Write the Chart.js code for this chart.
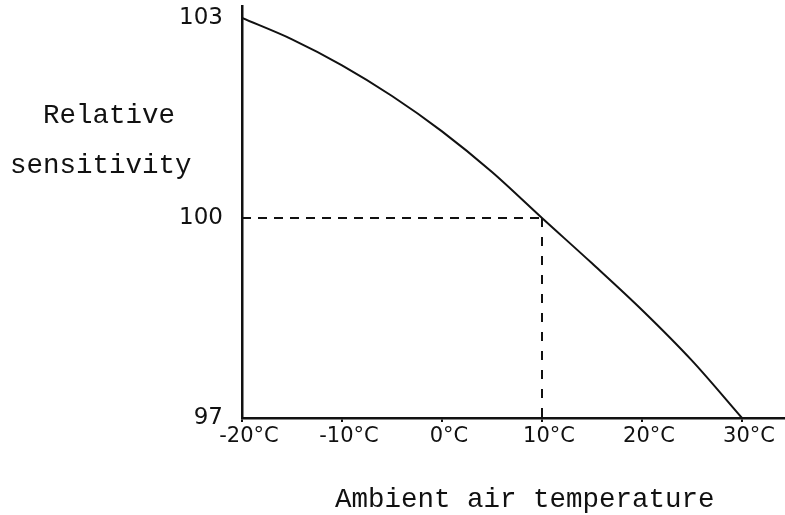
<!DOCTYPE html>
<html>
<head>
<meta charset="utf-8">
<script src="https://cdn.jsdelivr.net/npm/chart.js@4/dist/chart.umd.min.js"></script>
<style>
    body { margin: 0; background: #fff; }
    #wrap { position: relative; width: 785px; height: 515px; }
    .axis-title {
        position: absolute;
        font-family: "Liberation Mono", "DejaVu Sans Mono", monospace;
        font-size: 27.5px;
        line-height: 1;
        color: #111;
        white-space: nowrap;
    }
</style>
</head>
<body>
<div id="wrap">
    <canvas id="sensChart" width="785" height="515"></canvas>
    <div class="axis-title" style="left:43px; top:102px;">Relative</div>
    <div class="axis-title" style="left:10px; top:152px;">sensitivity</div>
    <div class="axis-title" style="left:335px; top:486px;">Ambient air temperature</div>
</div>
<script>
// --- Data ---
const temps = [-20, -15, -10, -5, 0, 5, 10, 15, 20, 25, 30];
const sensitivity = [103.0, 102.68, 102.29, 101.83, 101.30, 100.69, 100.0, 99.32, 98.62, 97.86, 97.0];
const xTickValues = [-20, -10, 0, 10, 20, 30];
const yTickValues = [97, 100, 103];
const refTemp = 10;
const refValue = 100;

document.addEventListener('DOMContentLoaded', () => {
    const ink = '#111';

    const curve = temps.map((t, i) => ({ x: t, y: sensitivity[i] }));

    const ctx = document.getElementById('sensChart').getContext('2d');
    new Chart(ctx, {
        type: 'line',
        data: {
            datasets: [
                {
                    data: curve,
                    borderColor: ink,
                    borderWidth: 2,
                    pointRadius: 0,
                    cubicInterpolationMode: 'monotone'
                },
                {
                    // horizontal reference at 100
                    data: [{ x: temps[0], y: refValue }, { x: refTemp, y: refValue }],
                    borderColor: ink,
                    borderWidth: 2,
                    borderDash: [9, 7],
                    pointRadius: 0
                },
                {
                    // vertical reference at 10°C
                    data: [{ x: refTemp, y: refValue }, { x: refTemp, y: yTickValues[0] }],
                    borderColor: ink,
                    borderWidth: 2,
                    borderDash: [9, 10],
                    pointRadius: 0
                }
            ]
        },
        options: {
            responsive: false,
            animation: false,
            layout: { padding: { top: 6, right: 0, left: 0, bottom: 0 } },
            plugins: { legend: { display: false }, tooltip: { enabled: false } },
            scales: {
                x: {
                    type: 'linear',
                    min: -20,
                    max: 34.3,
                    afterBuildTicks: (scale) => { scale.ticks = xTickValues.map(v => ({ value: v })); },
                    afterFit: (scale) => {
                        scale.height = 97;
                        scale.paddingLeft = 0;
                        scale.paddingRight = 0;
                    },
                    border: { display: true, color: ink, width: 2.5 },
                    grid: { display: true, drawOnChartArea: false, drawTicks: true, tickLength: 4, color: ink, lineWidth: 2 },
                    ticks: {
                        color: ink,
                        font: { family: '"DejaVu Sans", sans-serif', size: 21 },
                        padding: 2,
                        labelOffset: 7,
                        maxRotation: 0,
                        callback: (v) => v + '°C'
                    }
                },
                y: {
                    type: 'linear',
                    min: 97,
                    max: 103.18,
                    afterBuildTicks: (scale) => { scale.ticks = yTickValues.map(v => ({ value: v })); },
                    afterFit: (scale) => {
                        scale.width = 242;
                        scale.paddingTop = 0;
                        scale.paddingBottom = 0;
                    },
                    border: { display: true, color: ink, width: 2.5 },
                    grid: { display: false },
                    ticks: {
                        color: ink,
                        font: { family: '"DejaVu Sans", sans-serif', size: 23 },
                        padding: 11
                    }
                }
            }
        }
    });
});
</script>
</body>
</html>
